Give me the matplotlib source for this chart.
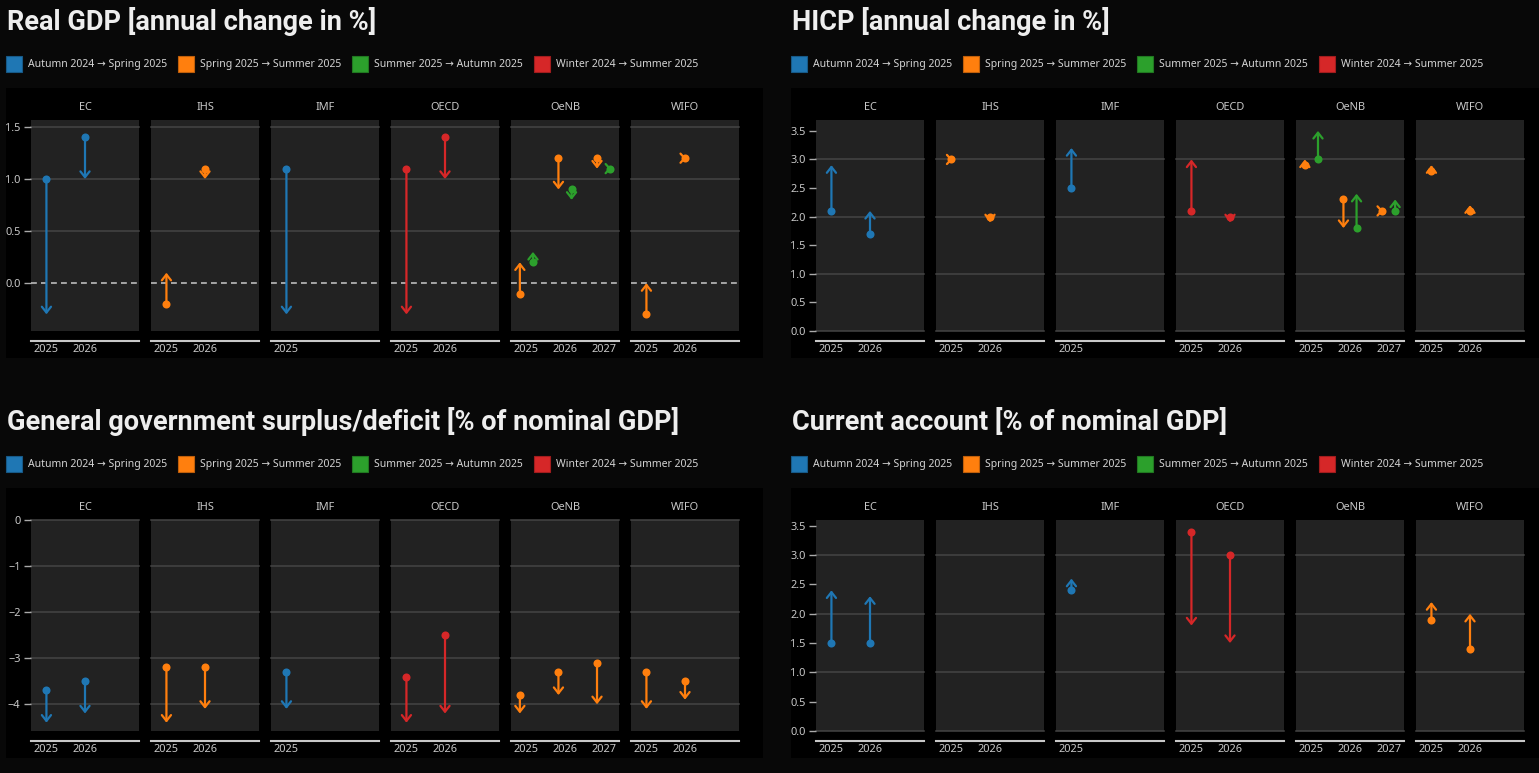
import matplotlib
matplotlib.use('Agg')
import matplotlib.pyplot as plt
from matplotlib.patches import Rectangle
import matplotlib.colors as mcolors

W, H, DPI = 1539, 773, 100

# ---------------- data ----------------
institutions = ['EC', 'IHS', 'IMF', 'OECD', 'OeNB', 'WIFO']
year_slots = [2025, 2026, 2027]
inst_years = {'EC': [2025, 2026], 'IHS': [2025, 2026], 'IMF': [2025],
              'OECD': [2025, 2026], 'OeNB': [2025, 2026, 2027], 'WIFO': [2025, 2026]}

series_names = ['Autumn 2024 → Spring 2025', 'Spring 2025 → Summer 2025',
                'Summer 2025 → Autumn 2025', 'Winter 2024 → Summer 2025']
series_colors = ['#1f77b4', '#ff7f0e', '#2ca02c', '#d62728']

# Real GDP [annual change in %]
gdp_inst = ['EC', 'EC', 'IHS', 'IHS', 'IMF', 'OECD', 'OECD', 'OeNB', 'OeNB', 'OeNB', 'OeNB', 'OeNB', 'OeNB', 'WIFO', 'WIFO']
gdp_year = [2025, 2026, 2025, 2026, 2025, 2025, 2026, 2025, 2025, 2026, 2026, 2027, 2027, 2025, 2026]
gdp_series = [0, 0, 1, 1, 0, 3, 3, 1, 2, 1, 2, 1, 2, 1, 1]
gdp_from = [1.0, 1.4, -0.2, 1.1, 1.1, 1.1, 1.4, -0.1, 0.2, 1.2, 0.9, 1.2, 1.1, -0.3, 1.2]
gdp_to = [-0.3, 1.0, 0.1, 1.0, -0.3, -0.3, 1.0, 0.2, 0.3, 0.9, 0.8, 1.1, 1.1, 0.0, 1.2]

# HICP [annual change in %]
hicp_inst = ['EC', 'EC', 'IHS', 'IHS', 'IMF', 'OECD', 'OECD', 'OeNB', 'OeNB', 'OeNB', 'OeNB', 'OeNB', 'OeNB', 'WIFO', 'WIFO']
hicp_year = [2025, 2026, 2025, 2026, 2025, 2025, 2026, 2025, 2025, 2026, 2026, 2027, 2027, 2025, 2026]
hicp_series = [0, 0, 1, 1, 0, 3, 3, 1, 2, 1, 2, 1, 2, 1, 1]
hicp_from = [2.1, 1.7, 3.0, 2.0, 2.5, 2.1, 2.0, 2.9, 3.0, 2.3, 1.8, 2.1, 2.1, 2.8, 2.1]
hicp_to = [2.9, 2.1, 3.0, 1.9, 3.2, 3.0, 1.9, 3.0, 3.5, 1.8, 2.4, 2.1, 2.3, 2.9, 2.2]

# General government surplus/deficit [% of nominal GDP]
def_inst = ['EC', 'EC', 'IHS', 'IHS', 'IMF', 'OECD', 'OECD', 'OeNB', 'OeNB', 'OeNB', 'WIFO', 'WIFO']
def_year = [2025, 2026, 2025, 2026, 2025, 2025, 2026, 2025, 2026, 2027, 2025, 2026]
def_series = [0, 0, 1, 1, 0, 3, 3, 1, 1, 1, 1, 1]
def_from = [-3.7, -3.5, -3.2, -3.2, -3.3, -3.4, -2.5, -3.8, -3.3, -3.1, -3.3, -3.5]
def_to = [-4.4, -4.2, -4.4, -4.1, -4.1, -4.4, -4.2, -4.2, -3.8, -4.0, -4.1, -3.9]

# Current account [% of nominal GDP]
ca_inst = ['EC', 'EC', 'IMF', 'OECD', 'OECD', 'WIFO', 'WIFO']
ca_year = [2025, 2026, 2025, 2025, 2026, 2025, 2026]
ca_series = [0, 0, 0, 3, 3, 1, 1]
ca_from = [1.5, 1.5, 2.4, 3.4, 3.0, 1.9, 1.4]
ca_to = [2.4, 2.3, 2.6, 1.8, 1.5, 2.2, 2.0]

# ---------------- styling ----------------
FIG_BG = '#080808'
BOX_BG = '#000000'
FACET_BG = '#222222'
GRID = '#444444'
TXT = '#c8c8c8'
FONT = ['Noto Sans', 'DejaVu Sans']
plt.rcParams['font.family'] = FONT
plt.rcParams['axes.unicode_minus'] = True

fig = plt.figure(figsize=(W / DPI, H / DPI), dpi=DPI, facecolor=FIG_BG)
renderer = fig.canvas.get_renderer()


def fx(px):
    return px / W


def fy(py):
    return 1 - py / H


# series present per institution (over all charts) -> dodge
inst_series = {k: set() for k in institutions}
for il, sl in [(gdp_inst, gdp_series), (hicp_inst, hicp_series), (def_inst, def_series), (ca_inst, ca_series)]:
    for i, s in zip(il, sl):
        inst_series[i].add(s)
inst_series = {k: sorted(v) for k, v in inst_series.items()}
DODGE = 0.34


def darker(c, f=0.75):
    r, g, b = mcolors.to_rgb(c)
    return (r * f, g * f, b * f)


def draw_chart(x0, y0, title, inst_l, year_l, ser_l, from_l, to_l,
               yticks, ylabels, grid_vals, ylim, zero_dashed):
    # title
    fig.text(fx(x0 + 7), fy(y0 + 30), title, fontsize=19.5, fontweight='bold',
             family=['Roboto', 'DejaVu Sans'], color='#eeeeee', va='baseline', ha='left')
    # legend
    x = x0 + 6
    for name, col in zip(series_names, series_colors):
        fig.patches.append(Rectangle((fx(x), fy(y0 + 72)), 16 / W, 16 / H,
                                     transform=fig.transFigure, facecolor=col,
                                     edgecolor=darker(col), lw=0.8))
        t = fig.text(fx(x + 22), fy(y0 + 64.5), name, fontsize=7.5, color='#d4d4d4',
                     va='center', ha='left')
        bb = t.get_window_extent(renderer)
        x = bb.x1 + 11
    # container
    fig.patches.append(Rectangle((fx(x0 + 6), fy(y0 + 358)), 757 / W, 270 / H,
                                 transform=fig.transFigure, facecolor=BOX_BG,
                                 edgecolor='none', zorder=-5))
    for i, inst in enumerate(institutions):
        left = x0 + 31 + 120 * i
        ax = fig.add_axes([fx(left), fy(y0 + 331), 108 / W, 211 / H])
        ax.set_facecolor(FACET_BG)
        ax.set_xlim(-0.4, 2.4)
        ax.set_ylim(*ylim)
        for s in ['top', 'right', 'left']:
            ax.spines[s].set_visible(False)
        ax.spines['bottom'].set_position(('outward', 7.2))
        ax.spines['bottom'].set_color('#c8c8c8')
        ax.spines['bottom'].set_linewidth(1.5)
        yrs = inst_years[inst]
        ax.set_xticks([year_slots.index(y) for y in yrs])
        ax.set_xticklabels([str(y) for y in yrs])
        ax.tick_params(axis='x', length=0, pad=2.5, labelcolor=TXT, labelsize=7.9)
        if i == 0:
            ax.set_yticks(yticks)
            ax.set_yticklabels(ylabels)
            ax.tick_params(axis='y', length=5, width=1, color='#aaaaaa', pad=2.5,
                           labelcolor=TXT, labelsize=7.9)
        else:
            ax.set_yticks([])
        for g in grid_vals:
            ax.axhline(g, color=GRID, lw=1.1, zorder=1, clip_on=False)
        if zero_dashed:
            ax.axhline(0, color='#bbbbbb', lw=1.2, ls=(0, (3.5, 2.5)), zorder=2)
        fig.text(fx(left + 54), fy(y0 + 107), inst, fontsize=7.9, color=TXT,
                 ha='center', va='center')
        sers = inst_series[inst]
        n = len(sers)
        for ii, yy, ss, f0, t0 in zip(inst_l, year_l, ser_l, from_l, to_l):
            if ii != inst:
                continue
            xpos = year_slots.index(yy) + (sers.index(ss) - (n - 1) / 2) * DODGE
            col = series_colors[ss]
            if f0 != t0:
                ax.annotate('', xy=(xpos, t0), xytext=(xpos, f0),
                            arrowprops=dict(arrowstyle='->,head_length=0.42,head_width=0.33',
                                            color=col, lw=1.6, shrinkA=0, shrinkB=0,
                                            mutation_scale=10),
                            zorder=3)
            else:
                ax.annotate('', xy=(xpos + 0.03, t0), xytext=(xpos + 0.029, f0),
                            arrowprops=dict(arrowstyle='->,head_length=0.3,head_width=0.33',
                                            color=col, lw=1.6, shrinkA=0, shrinkB=0,
                                            mutation_scale=10),
                            zorder=3)
            ax.plot([xpos], [f0], 'o', color=col, ms=5.8, zorder=4, mec='none')


draw_chart(0, 0, 'Real GDP [annual change in %]', gdp_inst, gdp_year, gdp_series, gdp_from, gdp_to,
           [0.0, 0.5, 1.0, 1.5], ['0.0', '0.5', '1.0', '1.5'], [0.5, 1.0, 1.5], (-0.46, 1.567), True)
draw_chart(785, 0, 'HICP [annual change in %]', hicp_inst, hicp_year, hicp_series, hicp_from, hicp_to,
           [0.0, 0.5, 1.0, 1.5, 2.0, 2.5, 3.0, 3.5], ['0.0', '0.5', '1.0', '1.5', '2.0', '2.5', '3.0', '3.5'],
           [0.0, 1.0, 2.0, 3.0], (0.0, 3.69), False)
draw_chart(0, 400, 'General government surplus/deficit [% of nominal GDP]', def_inst, def_year, def_series,
           def_from, def_to, [0, -1, -2, -3, -4], ['0', '\u22121', '\u22122', '\u22123', '\u22124'],
           [0, -1, -2, -3, -4], (-4.58, 0.0), False)
draw_chart(785, 400, 'Current account [% of nominal GDP]', ca_inst, ca_year, ca_series, ca_from, ca_to,
           [0.0, 0.5, 1.0, 1.5, 2.0, 2.5, 3.0, 3.5], ['0.0', '0.5', '1.0', '1.5', '2.0', '2.5', '3.0', '3.5'],
           [0.0, 1.0, 2.0, 3.0], (0.0, 3.6), False)

fig.savefig('out.png', dpi=DPI, facecolor=FIG_BG)
